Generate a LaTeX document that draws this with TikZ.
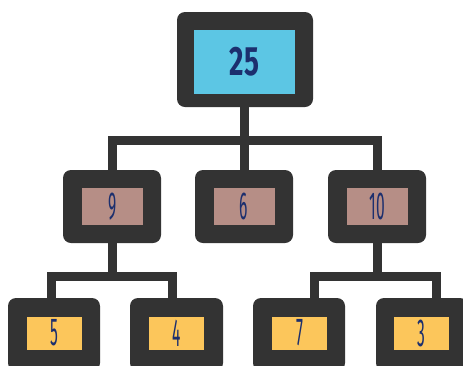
\documentclass[tikz,border=0pt]{standalone}
\usepackage{fontspec}
\setmainfont{Fira Sans}
\usepackage{graphicx}
\definecolor{frame}{HTML}{333333}
\definecolor{rootfill}{HTML}{5CC6E4}
\definecolor{midfill}{HTML}{B68E86}
\definecolor{leaffill}{HTML}{FCC65B}
\definecolor{digit}{HTML}{1C2F6E}
\tikzset{
  outerbox/.style={fill=frame, rounded corners=8pt, inner sep=0pt},
  valbox/.style={inner sep=0pt, text=digit},
  link/.style={draw=frame, line width=9pt, line join=miter},
}
\newcommand{\numtxt}[1]{\scalebox{0.4}[1]{\fontsize{39}{39}\selectfont #1}}
\newcommand{\bignum}[1]{\scalebox{0.68}[1]{\fontsize{41}{41}\selectfont\bfseries #1}}
\begin{document}
\begin{tikzpicture}[x=1pt, y=-1pt]
\useasboundingbox (0,0) rectangle (463,365);
\begin{scope}
\clip (0,0) rectangle (463,365);
% junction points of the links
\coordinate (jr) at (244,140);
\coordinate (jl) at (112,140);
\coordinate (jrr) at (377,140);
\coordinate (d5) at (51,276);
\coordinate (d4) at (172,276);
\coordinate (d7) at (314,276);
\coordinate (d3) at (436,276);

% root
\node[outerbox, minimum width=136pt, minimum height=95pt] (o25) at (245,59.5) {};
\node[valbox, fill=rootfill, minimum width=101pt, minimum height=64pt] (n25) at (244.5,62) {\bignum{25}};

% middle row
\node[outerbox, minimum width=98pt, minimum height=73pt] (o9) at (112,206.5) {};
\node[valbox, fill=midfill, minimum width=61pt, minimum height=37pt] (n9) at (112.5,206.5) {\numtxt{9}};
\node[outerbox, minimum width=98pt, minimum height=73pt] (o6) at (244,206.5) {};
\node[valbox, fill=midfill, minimum width=61pt, minimum height=37pt] (n6) at (244,206.5) {\numtxt{6}};
\node[outerbox, minimum width=98pt, minimum height=73pt] (o10) at (377,206.5) {};
\node[valbox, fill=midfill, minimum width=61pt, minimum height=37pt] (n10) at (377,206.5) {\numtxt{10}};

% bottom row
\node[outerbox, minimum width=92pt, minimum height=73pt] (o5) at (54,334.5) {};
\node[valbox, fill=leaffill, minimum width=55pt, minimum height=33pt] (n5) at (54.5,333) {\numtxt{5}};
\node[outerbox, minimum width=93pt, minimum height=73pt] (o4) at (176.5,334.5) {};
\node[valbox, fill=leaffill, minimum width=55pt, minimum height=33pt] (n4) at (176.5,333) {\numtxt{4}};
\node[outerbox, minimum width=92pt, minimum height=73pt] (o7) at (299,334.5) {};
\node[valbox, fill=leaffill, minimum width=55pt, minimum height=33pt] (n7) at (299.5,333) {\numtxt{7}};
\node[outerbox, minimum width=92pt, minimum height=73pt] (o3) at (422,334.5) {};
\node[valbox, fill=leaffill, minimum width=55pt, minimum height=33pt] (n3) at (421.5,333) {\numtxt{3}};

% tree links
\draw[link] (o25.south -| jr) -- (jr);
\draw[link] (o9.north -| jl) -- (jl) -- (jrr) -- (o10.north -| jrr);
\draw[link] (jr) -- (o6.north -| jr);
\draw[link] (o9.south) -- (o9.south |- d5);
\draw[link] (o5.north -| d5) -- (d5) -- (d4) -- (o4.north -| d4);
\draw[link] (o10.south) -- (o10.south |- d7);
\draw[link] (o7.north -| d7) -- (d7) -- (d3) -- (o3.north -| d3);
\end{scope}
\end{tikzpicture}
\end{document}
